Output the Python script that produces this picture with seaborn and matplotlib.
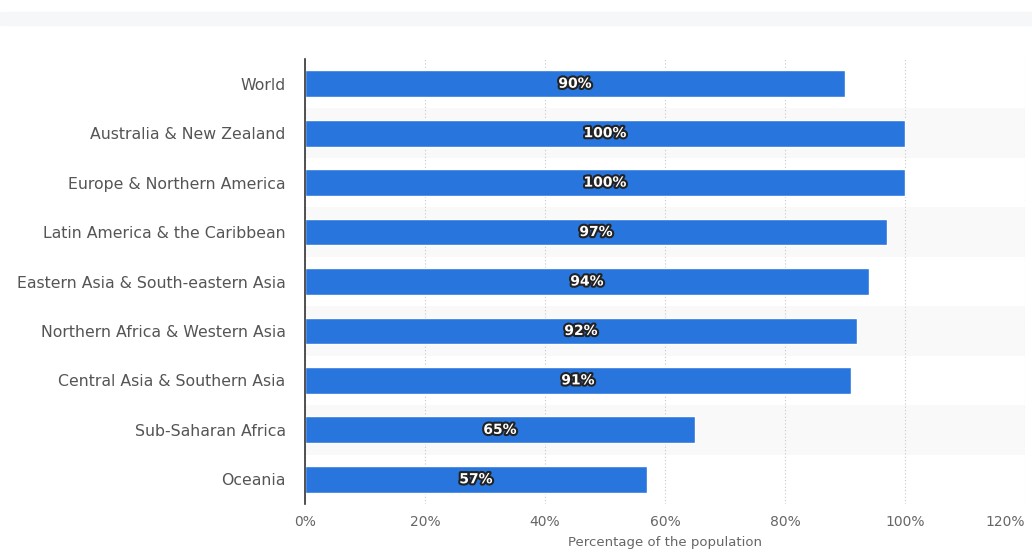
import matplotlib
matplotlib.use("Agg")
import matplotlib.pyplot as plt
import matplotlib.patheffects as pe
import pandas as pd
import seaborn as sns

regions = [
    "World",
    "Australia & New Zealand",
    "Europe & Northern America",
    "Latin America & the Caribbean",
    "Eastern Asia & South-eastern Asia",
    "Northern Africa & Western Asia",
    "Central Asia & Southern Asia",
    "Sub-Saharan Africa",
    "Oceania",
]
shares = [90, 100, 100, 97, 94, 92, 91, 65, 57]
x_ticks = [0, 20, 40, 60, 80, 100, 120]

df = pd.DataFrame({"region": regions, "share": shares})

sns.set_style("white")
plt.rcParams["font.family"] = ["DejaVu Sans"]

fig = plt.figure(figsize=(10.32, 5.49), dpi=100)
# light strip at the top of the page
fig.patches.append(plt.Rectangle((0, 1 - 25 / 549), 1, 13 / 549, transform=fig.transFigure,
                                 color="#f6f7f9", zorder=0))
ax = fig.add_axes([305 / 1032, 1 - 504 / 549, 720 / 1032, 445 / 549])

# alternate row bands
for i in range(len(regions)):
    if i % 2 == 1:
        ax.axhspan(i - 0.5, i + 0.5, color="#f9f9f9", zorder=0, lw=0)

sns.barplot(data=df, x="share", y="region", orient="h", color="#2876dd",
            saturation=1, width=0.54, ax=ax, zorder=2)

for i, v in enumerate(shares):
    ax.text(v / 2, i, f"{v}%", ha="center", va="center", color="white",
            fontsize=10, fontweight="bold", zorder=3,
            path_effects=[pe.withStroke(linewidth=3, foreground="#222222")])

ax.set_xlim(0, 120)
ax.set_ylim(len(regions) - 0.5, -0.5)
ax.set_xticks(x_ticks)
ax.set_xticklabels([f"{t}%" for t in x_ticks])
ax.get_xticklabels()[-1].set_ha("right")
ax.xaxis.grid(True, linestyle=(0, (1, 2)), color="#c8c8c8", linewidth=0.8)
ax.set_axisbelow(True)
for s in ["top", "right", "bottom"]:
    ax.spines[s].set_visible(False)
ax.spines["left"].set_color("#333333")
ax.spines["left"].set_linewidth(1.2)

ax.tick_params(axis="x", length=0, pad=8, labelsize=10, colors="#666666")
ax.tick_params(axis="y", length=0, pad=14, labelsize=11.3, colors="#555555")
ax.set_ylabel("")
ax.set_xlabel("Percentage of the population", fontsize=9.5, color="#666666", labelpad=5)

fig.savefig("out.png", dpi=100)
